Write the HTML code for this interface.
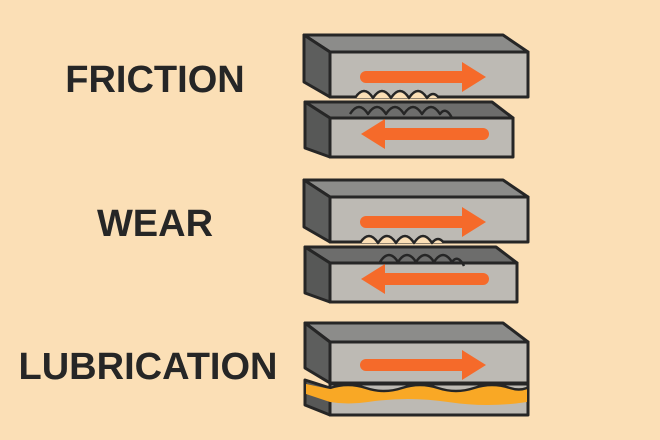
<!DOCTYPE html>
<html><head><style>
html,body{margin:0;padding:0;background:#fbdfb6;}
svg{display:block}
text{font-family:"Liberation Sans",sans-serif;font-weight:bold;fill:#262626;}
</style></head><body>
<svg width="660" height="440" viewBox="0 0 660 440">
<rect width="660" height="440" fill="#fbdfb6"/>
<defs>
<g id="arrowR"><path d="M366,0 L462,0" stroke="#f56a2a" stroke-width="12" stroke-linecap="round"/><polygon points="462,-15 486,0 462,15" fill="#f56a2a"/></g>
<g id="arrowL"><path d="M483,0 L385,0" stroke="#f56a2a" stroke-width="12" stroke-linecap="round"/><polygon points="385,-15 361,0 385,15" fill="#f56a2a"/></g>
</defs>
<g stroke="#262626" stroke-width="3" stroke-linejoin="round">
<!-- FRICTION -->
<polygon points="304,35 503,35 528,52 330,52" fill="#8c8c8a"/>
<polygon points="304,35 330,52 330,97 304,82" fill="#5d5e5d"/>
<rect x="330" y="52" width="198" height="45" fill="#bdbab4"/>
<polygon points="305,102 492,102 513,118 330,118" fill="#6d6d6c"/>
<polygon points="305,102 330,118 330,157 305,148" fill="#575857"/>
<rect x="330" y="118" width="183" height="39" fill="#bdbab4"/>
<path d="M355,98 q9,-14 18,0 q9,-14 18,0 q9,-14 18,0 q9,-14 18,0 q6,-8 12,0" fill="#fbdfb6" stroke-width="2.5"/>
<path d="M350,114 q9,-14 18,0 q9,-14 18,0 q9,-14 18,0 q9,-14 18,0 q9,-14 18,0 q6,-8 12,4" fill="none" stroke-width="2.5"/>
<!-- WEAR -->
<polygon points="304,180 503,180 528,197 330,197" fill="#8c8c8a"/>
<polygon points="304,180 330,197 330,242 304,227" fill="#5d5e5d"/>
<rect x="330" y="197" width="198" height="45" fill="#bdbab4"/>
<polygon points="305,247 496,247 517,263 330,263" fill="#6d6d6c"/>
<polygon points="305,247 330,263 330,302 305,293" fill="#575857"/>
<rect x="330" y="263" width="187" height="39" fill="#bdbab4"/>
<path d="M360,243 q9,-14 18,0 q9,-14 18,0 q9,-14 18,0 q9,-14 18,0 q6,-8 12,0" fill="#fbdfb6" stroke-width="2.5"/>
<path d="M380,262 q9,-14 18,0 q9,-14 18,0 q9,-14 18,0 q9,-14 18,0 q6,-8 12,4" fill="none" stroke-width="2.5"/>
<!-- LUBRICATION -->
<polygon points="305,323 503,323 528,342 330,342" fill="#8c8c8a"/>
<polygon points="305,323 330,342 330,383 305,368" fill="#5d5e5d"/>
<rect x="330" y="342" width="198" height="41" fill="#bdbab4"/>
<polygon points="305,380 330,388 330,415 305,405" fill="#575857"/>
<rect x="330" y="384" width="198" height="31" fill="#bdbab4"/>
<path d="M306,384 L330,389 Q348,383 366,389 Q384,395 402,389 Q420,383 438,389 Q456,395 474,389 Q492,383 510,389 Q519,392 527,389 L527,402 Q488,408 448,402 Q408,396 368,402 Q348,405 330,402 L306,394 Z" fill="#f9a825" stroke="none"/>
<path d="M330,388 Q348,382 366,388 Q384,394 402,388 Q420,382 438,388 Q456,394 474,388 Q492,382 510,388 Q519,391 527,388" fill="none" stroke-width="2.5"/>
</g>
<use href="#arrowR" transform="translate(0,77)"/>
<use href="#arrowL" transform="translate(0,134)"/>
<use href="#arrowR" transform="translate(0,222)"/>
<use href="#arrowL" transform="translate(0,279)"/>
<use href="#arrowR" transform="translate(0,365)"/>
<text x="155" y="92" font-size="38" text-anchor="middle">FRICTION</text>
<text x="155" y="236" font-size="38" text-anchor="middle">WEAR</text>
<text x="148" y="379" font-size="38" text-anchor="middle">LUBRICATION</text>
</svg>
</body></html>
